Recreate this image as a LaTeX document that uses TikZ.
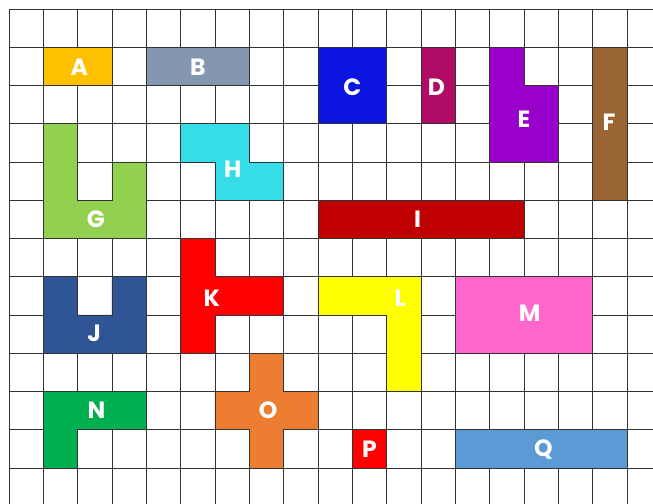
\documentclass[tikz,border=0pt]{standalone}
\usepackage{fontspec}
\setmainfont{Poppins}
\definecolor{cA}{HTML}{FFC000}
\definecolor{cB}{HTML}{8497B0}
\definecolor{cC}{HTML}{0C14E0}
\definecolor{cD}{HTML}{B00C66}
\definecolor{cE}{HTML}{9900CC}
\definecolor{cF}{HTML}{996633}
\definecolor{cG}{HTML}{92D050}
\definecolor{cH}{HTML}{35DDE8}
\definecolor{cI}{HTML}{C00000}
\definecolor{cJ}{HTML}{2F5597}
\definecolor{cK}{HTML}{FF0000}
\definecolor{cL}{HTML}{FFFF00}
\definecolor{cM}{HTML}{FF66CC}
\definecolor{cN}{HTML}{00B050}
\definecolor{cO}{HTML}{ED7D31}
\definecolor{cQ}{HTML}{5B9BD5}
\tikzset{
  gridline/.style={draw=black!80,line width=0.5pt},
  piece/.style={draw=black!80,line width=0.5pt},
  lbl/.style={text=white,font=\fontsize{19.5}{22}\selectfont\bfseries,inner sep=0pt}
}
\begin{document}
\begin{tikzpicture}[x=1cm,y=-1.1142cm]
\useasboundingbox (-0.262,-0.235) rectangle (18.76,12.94);
% grid
\foreach \c in {0,...,18} \draw[gridline] (\c,0) -- (\c,12.94);
\foreach \r in {0,...,12} \draw[gridline] (0,\r) -- (18.76,\r);
% pieces
\filldraw[piece,fill=cA] (1,1) rectangle (3,2);
\filldraw[piece,fill=cB] (4,1) rectangle (7,2);
\filldraw[piece,fill=cC] (9,1) rectangle (11,3);
\filldraw[piece,fill=cD] (12,1) rectangle (13,3);
\filldraw[piece,fill=cE] (14,1) -- (15,1) -- (15,2) -- (16,2) -- (16,4) -- (14,4) -- cycle;
\filldraw[piece,fill=cF] (17,1) rectangle (18,5);
\filldraw[piece,fill=cG] (1,3) -- (2,3) -- (2,5) -- (3,5) -- (3,4) -- (4,4) -- (4,6) -- (1,6) -- cycle;
\filldraw[piece,fill=cH] (5,3) -- (7,3) -- (7,4) -- (8,4) -- (8,5) -- (6,5) -- (6,4) -- (5,4) -- cycle;
\filldraw[piece,fill=cI] (9,5) rectangle (15,6);
\filldraw[piece,fill=cJ] (1,7) -- (2,7) -- (2,8) -- (3,8) -- (3,7) -- (4,7) -- (4,9) -- (1,9) -- cycle;
\filldraw[piece,fill=cK] (5,6) -- (6,6) -- (6,7) -- (8,7) -- (8,8) -- (6,8) -- (6,9) -- (5,9) -- cycle;
\filldraw[piece,fill=cL] (9,7) -- (12,7) -- (12,10) -- (11,10) -- (11,8) -- (9,8) -- cycle;
\filldraw[piece,fill=cM] (13,7) rectangle (17,9);
\filldraw[piece,fill=cN] (1,10) -- (4,10) -- (4,11) -- (2,11) -- (2,12) -- (1,12) -- cycle;
\filldraw[piece,fill=cO] (7,9) -- (8,9) -- (8,10) -- (9,10) -- (9,11) -- (8,11) -- (8,12) -- (7,12)
  -- (7,11) -- (6,11) -- (6,10) -- (7,10) -- cycle;
\filldraw[piece,fill=cK] (10,11) rectangle (11,12);
\filldraw[piece,fill=cQ] (13,11) rectangle (18,12);
% labels
\node[lbl] (la) at (2.05,1.52) {A};
\node[lbl] (lb) at (5.5,1.52) {B};
\node[lbl] (lc) at (10,2.04) {C};
\node[lbl] (ld) at (12.45,2.04) {D};
\node[lbl] (le) at (15,2.88) {E};
\node[lbl] (lf) at (17.48,2.95) {F};
\node[lbl] (lg) at (2.53,5.49) {G};
\node[lbl] (lh) at (6.52,4.2) {H};
\node[lbl] (li) at (11.9,5.5) {I};
\node[lbl] (lj) at (2.48,8.47) {J};
\node[lbl] (lk) at (5.91,7.56) {K};
\node[lbl] (ll) at (11.4,7.57) {L};
\node[lbl] (lm) at (15.17,7.95) {M};
\node[lbl] (ln) at (2.55,10.48) {N};
\node[lbl] (lo) at (7.55,10.48) {O};
\node[lbl] (lp) at (10.5,11.52) {P};
\node[lbl] (lq) at (15.57,11.52) {Q};
\end{tikzpicture}
\end{document}
